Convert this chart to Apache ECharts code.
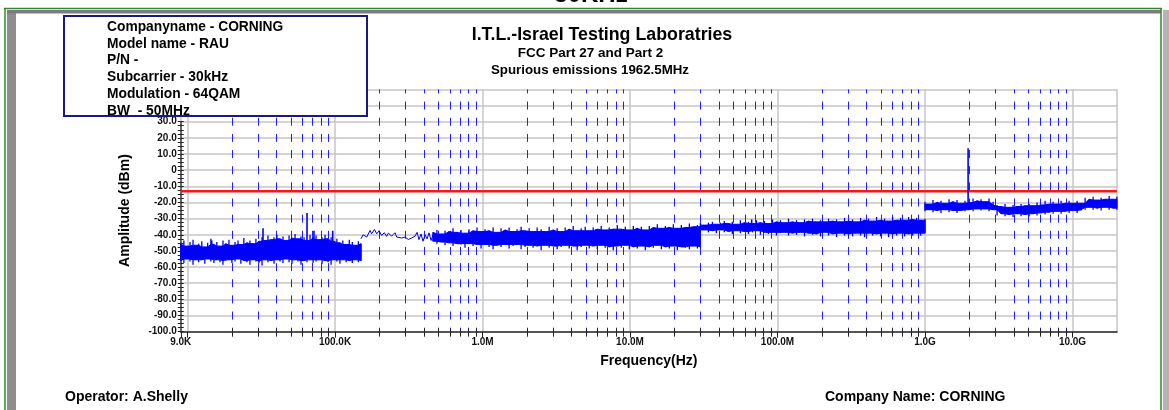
<!DOCTYPE html>
<html>
<head>
<meta charset="utf-8">
<title>Spurious emissions 1962.5MHz</title>
<script src="https://cdn.jsdelivr.net/npm/echarts@6/dist/echarts.min.js"></script>
<style>
  html, body { margin: 0; padding: 0; background: #fff; }
  #chart { width: 1169px; height: 410px; }
</style>
</head>
<body>
<div id="chart"></div>
<script>
// text blocks
var headerCut = "30KHz";
var infoLines = ["Companyname - CORNING", "Model name - RAU", "P/N -", "Subcarrier - 30kHz", "Modulation - 64QAM", "BW  - 50MHz"];
var titleLines = ["I.T.L.-Israel Testing Laboratries", "FCC Part 27 and Part 2", "Spurious emissions 1962.5MHz"];
var operatorText = "Operator: A.Shelly";
var companyText = "Company Name: CORNING";

// axis ticks
var xTickValues = [9e3, 1e5, 1e6, 1e7, 1e8, 1e9, 1e10];
var xTickLabels = ["9.0K", "100.0K", "1.0M", "10.0M", "100.0M", "1.0G", "10.0G"];
var decades = [1e4, 1e5, 1e6, 1e7, 1e8, 1e9];
var minorMults = [2, 3, 4, 5, 6, 7, 8, 9];

var limitLevel = -13; // dBm

// measured trace, [freq Hz, upper dBm, lower dBm]
var band9k = [
  [9000, -45.5, -56], [9450, -43.5, -57.5], [9900, -47, -55], [10400, -44.5, -56.5], [10900, -43, -58.5],
  [11400, -46.5, -55.5], [11900, -45.5, -57], [12500, -44, -55.5], [13100, -47.5, -58], [13700, -45, -55],
  [14400, -42.5, -56.5], [15100, -46, -57.5], [15800, -44.5, -55.5], [16600, -47, -57], [17400, -43.5, -58.5],
  [18200, -45.5, -56], [19100, -43, -55.5], [20000, -46.5, -57.5], [21000, -44.5, -56.5], [22000, -43.5, -55],
  [23000, -46, -58], [24100, -42, -56], [25300, -45, -57], [26500, -43.5, -58.5], [27800, -45.5, -55.5],
  [29100, -42.5, -56.5], [30500, -44, -57.5], [32000, -41.5, -59], [33500, -43.5, -55.5], [35100, -40.5, -57],
  [36800, -43, -56], [38600, -41.5, -58], [40400, -40, -55.5], [42400, -42.5, -56.5], [44400, -41, -57.5],
  [46500, -43.5, -55], [48800, -40.5, -57], [51100, -42, -58], [53600, -39.5, -55.5], [56100, -42.5, -56.5],
  [58800, -41, -58.5], [61700, -41.5, -56], [64600, -43.5, -57], [67700, -40, -55.5], [71000, -42, -57.5],
  [74400, -40.5, -56.5], [78000, -43, -55.5], [81700, -41.5, -58], [85600, -40, -56], [89800, -42.5, -57],
  [94100, -41.5, -58.5], [98600, -44, -55.5], [103000, -42.5, -56.5], [108000, -45, -58], [113000, -43.5, -55.5],
  [119000, -46, -57], [125000, -43, -56], [131000, -44.5, -57.5], [137000, -46.5, -55.5], [144000, -44, -57],
  [150000, -45.5, -56]
];

// 150 kHz - ~460 kHz, single sweep line [freq Hz, dBm]
var line150k = [
  [150000, -42.5], [155000, -40], [164000, -41.4], [173000, -37.3], [177000, -39.4], [185000, -36.7],
  [192000, -39.4], [199000, -37.5], [207000, -40.4], [216000, -38.7], [224000, -41], [230000, -39],
  [242000, -40.8], [255000, -38.7], [262000, -41.4], [269000, -40.4], [283000, -42], [298000, -41.4],
  [314000, -42.9], [331000, -42], [340000, -42.9], [349000, -40.8], [360000, -38.5], [371000, -43],
  [383000, -39.5], [395000, -44], [408000, -40], [421000, -42.5], [434000, -38.8], [448000, -43.5],
  [462000, -40]
];

var band150k = [
  [462e3, -38.5, -44], [491e3, -37, -45.5], [523e3, -39.5, -44.5], [557e3, -37.5, -46.5], [593e3, -38, -45],
  [631e3, -36, -47], [672e3, -38.5, -45.5], [715e3, -37, -46], [761e3, -39, -48], [810e3, -36.5, -45.5],
  [863e3, -37.5, -47], [918e3, -35.5, -46], [978e3, -38, -48.5], [1.04e6, -36.5, -46], [1.108e6, -37.5, -47.5],
  [1.18e6, -35.5, -49], [1.255e6, -38.5, -46.5], [1.336e6, -36, -47.5], [1.423e6, -37, -46], [1.515e6, -35.5, -48.5],
  [1.612e6, -38, -47], [1.716e6, -36.5, -46], [1.827e6, -35, -49], [1.945e6, -37.5, -47.5], [2.071e6, -36, -46.5],
  [2.204e6, -38, -48], [2.347e6, -35.5, -47], [2.498e6, -36.5, -49.5], [2.659e6, -38, -46.5], [2.831e6, -35, -48],
  [3.013e6, -37, -47], [3.208e6, -36, -49], [3.415e6, -38, -47.5], [3.635e6, -35.5, -46.5], [3.87e6, -36.5, -48.5],
  [4.12e6, -34.5, -47], [4.385e6, -37.5, -49.5], [4.668e6, -36, -47.5], [4.97e6, -35, -46.5], [5.29e6, -37.5, -48.5],
  [5.63e6, -35.5, -47], [6.0e6, -36.5, -49], [6.38e6, -34.5, -46.5], [6.79e6, -37, -48], [7.23e6, -35.5, -47.5],
  [7.70e6, -36.5, -49.5], [8.2e6, -34, -47], [8.73e6, -36.5, -48], [9.29e6, -35, -46.5], [9.89e6, -37, -49],
  [10.53e6, -34.5, -47.5], [11.2e6, -36, -48.5], [11.93e6, -35, -47], [12.7e6, -37, -49.5], [13.52e6, -34.5, -47.5],
  [14.39e6, -35.5, -48], [15.32e6, -33.5, -46.5], [16.31e6, -36, -49], [17.36e6, -34.5, -47.5], [18.48e6, -35.5, -48.5],
  [19.67e6, -33.5, -47], [20.94e6, -36, -49.5], [22.29e6, -34, -47.5], [23.73e6, -35.5, -48], [25.26e6, -33, -49],
  [26.89e6, -35, -47], [28.63e6, -34, -48.5], [30e6, -35, -47.5]
];

var band30m = [
  [30e6, -32.5, -38], [31.9e6, -34, -37], [34.0e6, -32.5, -38.5], [36.2e6, -32, -37.5], [38.5e6, -33.5, -39],
  [41.0e6, -32.5, -37], [43.6e6, -31.5, -38.5], [46.5e6, -33, -38], [49.4e6, -32, -39.5], [52.6e6, -33.5, -37.5],
  [56.0e6, -31, -39], [59.7e6, -32.5, -38], [63.5e6, -32, -39.5], [67.6e6, -33, -38.5], [72.0e6, -31, -37.5],
  [76.6e6, -32.5, -40], [81.6e6, -31.5, -38.5], [86.8e6, -33, -39.5], [92.4e6, -30.5, -38.5], [98.4e6, -32, -40.5],
  [104.7e6, -31, -39], [111.5e6, -32.5, -38.5], [118.7e6, -30, -40.5], [126.3e6, -32, -39], [134.5e6, -31, -40],
  [143.2e6, -32.5, -38.5], [152.4e6, -30.5, -41], [162.2e6, -31.5, -39], [172.7e6, -30, -40], [183.8e6, -32, -39.5],
  [195.7e6, -31, -41], [208.3e6, -32, -38.5], [221.8e6, -30, -40.5], [236.1e6, -31.5, -39.5], [251.3e6, -30.5, -41.5],
  [267.5e6, -32, -39], [284.8e6, -29.5, -40.5], [303.2e6, -31.5, -39.5], [322.7e6, -30.5, -41], [343.5e6, -32, -39],
  [365.7e6, -29.5, -40.5], [389.3e6, -31, -41.5], [414.4e6, -30, -39], [441.1e6, -31.5, -40.5], [469.6e6, -29, -39.5],
  [499.9e6, -31, -41], [532.1e6, -30, -39], [566.4e6, -31.5, -41.5], [603e6, -29, -39.5], [641.9e6, -31, -40.5],
  [683.3e6, -29.5, -39], [727.3e6, -31, -41], [774.3e6, -29, -39.5], [824.2e6, -30.5, -40.5], [877.4e6, -29.5, -39],
  [934e6, -31, -40.5], [1000e6, -30, -39]
];

var band1g = [
  [1.0e9, -19.5, -25.5], [1.065e9, -21, -24.5], [1.133e9, -18.5, -26], [1.206e9, -20, -25], [1.284e9, -19, -26.5],
  [1.367e9, -20.5, -24.5], [1.455e9, -18, -26], [1.549e9, -19.5, -25], [1.649e9, -18.5, -26.5], [1.755e9, -20.5, -25],
  [1.868e9, -19, -25.5], [1.989e9, -20, -24.5], [2.117e9, -17.5, -25.5], [2.254e9, -19, -24], [2.399e9, -18, -25],
  [2.554e9, -19.5, -24], [2.718e9, -17.5, -25.5], [2.894e9, -19.5, -24.5], [3.08e9, -21.5, -28], [3.279e9, -22.5, -27],
  [3.49e9, -21, -28.5], [3.715e9, -23, -27.5], [3.955e9, -21.5, -29], [4.21e9, -22.5, -27], [4.48e9, -21, -28.5],
  [4.77e9, -22, -27.5], [5.08e9, -21, -28.5], [5.40e9, -22, -27], [5.75e9, -20, -28], [6.12e9, -21.5, -26.5],
  [6.52e9, -19, -27.5], [6.94e9, -21, -26], [7.39e9, -19.5, -27], [7.86e9, -21, -25.5], [8.37e9, -19, -27],
  [8.91e9, -20.5, -25.5], [9.48e9, -19, -26.5], [10.1e9, -20.5, -25], [10.75e9, -19, -26.5], [11.44e9, -20.5, -25],
  [12.18e9, -17, -24.5], [12.96e9, -18, -23], [13.8e9, -16.5, -24.5], [14.69e9, -18.5, -23.5], [15.64e9, -17, -25],
  [16.65e9, -18, -23], [17.72e9, -16, -24.5], [18.86e9, -18, -23.5], [20e9, -16.5, -24.5]
];

// narrow spurs, [freq Hz, floor dBm, peak dBm]
var spurs = [
  [14600, -48, -43.5], [32500, -47, -36], [64600, -46, -26.5], [72000, -46, -37.5],
  [96500, -47, -37.5], [66.8e6, -33, -30.5], [1.96e9, -20, 13.5]
];

var FONT = '"Liberation Sans", Arial, sans-serif';
var TRACE = '#0000ff';
var GRID_GRAY = '#c6c6c6';
var Y_MIN = -100, Y_TOP = 50;

var minorFreqs = [];
decades.forEach(function (d) {
  minorMults.forEach(function (m) { minorFreqs.push(d * m); });
});

function tickLabel(v) {
  for (var i = 0; i < xTickValues.length; i++) {
    if (Math.abs(Math.log10(v) - Math.log10(xTickValues[i])) < 1e-6) return xTickLabels[i];
  }
  return '';
}

// body of the noise band is the inner envelope of neighbouring samples,
// each sample is then drawn as a needle from its lower to its upper reading
function bandSeries(pts) {
  return {
    type: 'custom',
    xAxisIndex: 0, yAxisIndex: 0,
    data: pts,
    encode: { x: 0, y: [1, 2] },
    silent: true,
    z: 6,
    renderItem: function (params, api) {
      if (params.dataIndex !== 0) return null;
      var n = pts.length, top = [], bottom = [], needles = [];
      for (var i = 0; i < n; i++) {
        var a = pts[Math.max(0, i - 1)], c = pts[Math.min(n - 1, i + 1)], p = pts[i];
        var hi = Math.min(a[1], p[1], c[1]);
        var lo = Math.max(a[2], p[2], c[2]);
        top.push(api.coord([p[0], hi]));
        bottom.unshift(api.coord([p[0], lo]));
        var u = api.coord([p[0], p[1]]), d = api.coord([p[0], p[2]]);
        needles.push({ type: 'line', shape: { x1: u[0], y1: u[1], x2: d[0], y2: d[1] },
          style: { stroke: TRACE, lineWidth: 1.3 } });
      }
      return {
        type: 'group',
        children: [{
          type: 'polygon',
          shape: { points: top.concat(bottom) },
          style: { fill: TRACE, stroke: TRACE, lineWidth: 1 }
        }].concat(needles)
      };
    }
  };
}

var gridBox = { left: 180.75, right: 52.1, bottom: 78.3 };

var graphics = [
  // frame
  { type: 'rect', shape: { x: 7, y: 10, width: 9, height: 400 }, style: { fill: '#8e8e8e' }, z: 100 },
  { type: 'rect', shape: { x: 7, y: 10, width: 1154, height: 3.5 }, style: { fill: '#7c7c7c' }, z: 100 },
  { type: 'rect', shape: { x: 1163, y: 10, width: 6, height: 400 }, style: { fill: '#b4b4b4' }, z: 100 },
  { type: 'line', shape: { x1: 4, y1: 8.5, x2: 1162, y2: 8.5 }, style: { stroke: '#2c8a2c', lineWidth: 1.5 }, z: 100 },
  { type: 'line', shape: { x1: 5, y1: 8, x2: 5, y2: 410 }, style: { stroke: '#2c8a2c', lineWidth: 1.5 }, z: 100 },
  { type: 'line', shape: { x1: 1161, y1: 8, x2: 1161, y2: 410 }, style: { stroke: '#2c8a2c', lineWidth: 1.5 }, z: 100 },
  { type: 'text', x: 591, y: -5, style: { text: headerCut, font: 'bold 24px ' + FONT, fill: '#000', align: 'center', verticalAlign: 'middle' }, z: 99 },
  // info box
  { type: 'rect', shape: { x: 64, y: 16, width: 303, height: 100 }, style: { fill: '#fff' }, z: 100 },
  { type: 'rect', shape: { x: 64, y: 16, width: 303, height: 100 }, style: { fill: 'none', stroke: '#191985', lineWidth: 2 }, z: 102 },
  // titles
  { type: 'text', x: 602, y: 35, style: { text: titleLines[0], font: 'bold 17.8px ' + FONT, fill: '#000', align: 'center', verticalAlign: 'middle' }, z: 101 },
  { type: 'text', x: 590.5, y: 53, style: { text: titleLines[1], font: 'bold 13.5px ' + FONT, fill: '#000', align: 'center', verticalAlign: 'middle' }, z: 101 },
  { type: 'text', x: 590, y: 70.5, style: { text: titleLines[2], font: 'bold 13.3px ' + FONT, fill: '#000', align: 'center', verticalAlign: 'middle' }, z: 101 },
  // footer
  { type: 'text', x: 65, y: 397, style: { text: operatorText, font: 'bold 14px ' + FONT, fill: '#000', align: 'left', verticalAlign: 'middle' }, z: 101 },
  { type: 'text', x: 825, y: 397, style: { text: companyText, font: 'bold 14px ' + FONT, fill: '#000', align: 'left', verticalAlign: 'middle' }, z: 101 }
];
infoLines.forEach(function (t, i) {
  graphics.push({ type: 'text', x: 107, y: 27 + i * 16.8, style: { text: t, font: 'bold 13.8px ' + FONT, fill: '#000', align: 'left', verticalAlign: 'middle' }, z: 101 });
});

var axisFont = { fontFamily: FONT, fontWeight: 'bold', fontSize: 10, color: '#111' };

var option = {
  animation: false,
  backgroundColor: '#fff',
  textStyle: { fontFamily: FONT },
  grid: [
    { left: gridBox.left, right: gridBox.right, top: 89.4, bottom: gridBox.bottom, containLabel: false },
    { left: gridBox.left, right: gridBox.right, top: 121.7, bottom: gridBox.bottom, containLabel: false }
  ],
  xAxis: [
    {
      gridIndex: 0, type: 'log', logBase: 10, min: 9e3, max: 2e10,
      name: 'Frequency(Hz)', nameLocation: 'middle', nameGap: 22,
      nameTextStyle: { fontFamily: FONT, fontWeight: 'bold', fontSize: 14, color: '#000' },
      axisLine: { show: true, onZero: false, lineStyle: { color: '#555', width: 2 } },
      axisTick: { show: true, length: 6, lineStyle: { color: '#222', width: 1 } },
      axisLabel: Object.assign({ margin: 6, showMinLabel: true, showMaxLabel: false, formatter: tickLabel }, axisFont),
      splitLine: { show: true, lineStyle: { color: GRID_GRAY, width: 1.5 } }
    },
    { gridIndex: 1, type: 'log', logBase: 10, min: 9e3, max: 2e10, show: false, axisLine: { onZero: false } }
  ],
  yAxis: [
    {
      gridIndex: 0, type: 'value', min: Y_MIN, max: Y_TOP, interval: 10,
      name: 'Amplitude (dBm)', nameLocation: 'middle', nameGap: 49,
      nameTextStyle: { fontFamily: FONT, fontWeight: 'bold', fontSize: 14, color: '#000' },
      axisLine: { show: false, onZero: false }, axisTick: { show: false }, axisLabel: { show: false },
      splitLine: { show: true, lineStyle: { color: GRID_GRAY, width: 1.5 } }
    },
    {
      gridIndex: 1, type: 'value', min: -100, max: 30, interval: 10,
      axisLine: { show: true, onZero: false, lineStyle: { color: '#444', width: 1.5 } },
      axisTick: { show: true, length: 3, lineStyle: { color: '#222' } },
      minorTick: { show: true, splitNumber: 4, length: 3, lineStyle: { color: '#222' } },
      axisLabel: Object.assign({ margin: 4, formatter: function (v) { return v === 0 ? '0' : v.toFixed(1); } }, axisFont),
      splitLine: { show: false }
    },
    {
      gridIndex: 1, type: 'value', min: -100, max: 30, interval: 10, position: 'left',
      axisLine: { show: false, onZero: false },
      axisTick: { show: true, inside: true, length: 3, lineStyle: { color: '#222' } },
      minorTick: { show: true, splitNumber: 4, length: 3, lineStyle: { color: '#222' } },
      axisLabel: { show: false },
      splitLine: { show: false }
    }
  ],
  graphic: { elements: graphics },
  series: [
    {
      // dashed minor grid at 2..9 x each decade, with small ticks on the axis
      type: 'custom', xAxisIndex: 0, yAxisIndex: 0, silent: true, z: 3,
      data: minorFreqs, encode: { x: 0 },
      renderItem: function (params, api) {
        var f = api.value(0);
        var b = api.coord([f, Y_MIN]);
        var t = api.coord([f, Y_TOP]);
        var x = Math.round(b[0]) + 0.5;
        return {
          type: 'group',
          children: [
            { type: 'line', shape: { x1: x, y1: b[1], x2: x, y2: t[1] },
              style: { stroke: '#1e1eff', lineWidth: 1, lineDash: [8, 8.15], lineDashOffset: 4 } },
            { type: 'line', shape: { x1: x, y1: b[1] - 3, x2: x, y2: b[1] + 5 },
              style: { stroke: '#222', lineWidth: 1 } }
          ]
        };
      }
    },
    {
      name: 'Limit', type: 'line', xAxisIndex: 0, yAxisIndex: 0, silent: true, z: 4,
      showSymbol: false, symbol: 'none',
      data: [[9e3, limitLevel], [2e10, limitLevel]],
      lineStyle: { color: '#ff1414', width: 2.5 }
    },
    bandSeries(band9k),
    bandSeries(band150k),
    bandSeries(band30m),
    bandSeries(band1g),
    {
      type: 'line', xAxisIndex: 0, yAxisIndex: 0, silent: true, z: 6,
      showSymbol: false, symbol: 'none',
      data: line150k,
      lineStyle: { color: TRACE, width: 1 }
    },
    {
      type: 'custom', xAxisIndex: 0, yAxisIndex: 0, silent: true, z: 7,
      data: spurs, encode: { x: 0, y: [1, 2] },
      renderItem: function (params, api) {
        var a = api.coord([api.value(0), api.value(1)]);
        var b = api.coord([api.value(0), api.value(2)]);
        return { type: 'line', shape: { x1: a[0], y1: a[1], x2: b[0], y2: b[1] }, style: { stroke: TRACE, lineWidth: 1.6 } };
      }
    }
  ]
};

var chart = echarts.init(document.getElementById('chart'), null, { renderer: 'canvas' });
chart.setOption(option);
</script>
</body>
</html>
